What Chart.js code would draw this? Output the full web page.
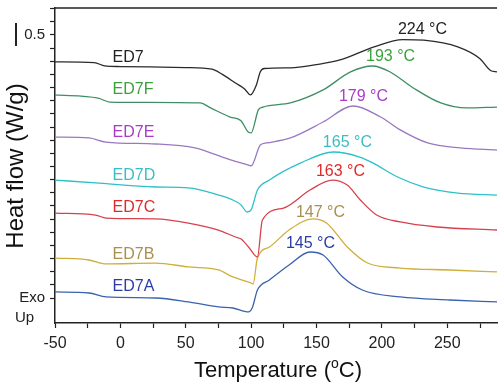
<!DOCTYPE html>
<html>
<head>
<meta charset="utf-8">
<script src="https://cdn.jsdelivr.net/npm/chart.js@4/dist/chart.umd.min.js"></script>
<style>
  html, body { margin: 0; padding: 0; background: #fff; }
  #wrap { width: 498px; height: 389px; }
</style>
</head>
<body>
<div id="wrap"><canvas id="dscChart" width="498" height="389"></canvas></div>
<script>
// --- data (temperature in degC, stacked heat flow in W/g) ---
const seriesNames = ['ED7', 'ED7F', 'ED7E', 'ED7D', 'ED7C', 'ED7B', 'ED7A'];
const lineColors  = ['#2a2a2a', '#3d8f63', '#9a78c0', '#2cc0c8', '#d8404c', '#cfae3a', '#3a62ae'];
const textColors  = ['#222222', '#3aa23a', '#a83cc8', '#3cbcc4', '#e02a2a', '#a89050', '#2c3ca8'];

const ed7  = [[-50,1.795],[-20,1.79],[-12,1.765],[0,1.76],[50,1.752],[70,1.74],[78,1.70],[88,1.635],[95,1.59],[99.5,1.545],[104,1.62],[107,1.72],[110,1.745],[130,1.75],[150,1.775],[168,1.81],[194,1.91],[216,1.965],[232,1.96],[258,1.91],[275,1.82],[283,1.73],[288,1.72]];
const ed7f = [[-50,1.544],[-17,1.52],[-8,1.49],[20,1.487],[61,1.483],[69,1.445],[84,1.376],[92,1.35],[98,1.26],[100,1.255],[105.5,1.43],[109,1.452],[130,1.483],[155,1.582],[176,1.719],[193,1.764],[206,1.72],[224,1.597],[245,1.483],[265,1.445],[288,1.452]];
const ed7e = [[-50,1.224],[-24,1.217],[-11,1.186],[27,1.171],[57,1.141],[78,1.072],[90,1.034],[98,1.011],[100,1.004],[107,1.163],[112,1.179],[130,1.217],[155,1.338],[178,1.46],[199,1.376],[214,1.278],[235,1.179],[260,1.141],[288,1.125]];
const ed7d = [[-50,0.897],[-19,0.875],[27,0.844],[52,0.837],[75,0.783],[86,0.745],[92,0.71],[97,0.654],[100,0.67],[104.8,0.821],[114,0.897],[138,1.027],[163,1.11],[183,1.072],[193,1.027],[212,0.92],[232,0.844],[258,0.798],[288,0.783]];
const ed7c = [[-50,0.646],[-19,0.631],[-11,0.608],[27,0.601],[52,0.57],[75,0.517],[88,0.464],[92,0.45],[98,0.388],[104.8,0.312],[108.6,0.593],[124.7,0.684],[145,0.821],[162,0.897],[173.5,0.859],[183.5,0.745],[196,0.631],[214,0.578],[242,0.54],[288,0.517]];
const ed7b = [[-50,0.304],[-24,0.289],[-11,0.259],[27,0.266],[52,0.236],[75,0.213],[86,0.16],[100,0.114],[101.5,0.106],[104.8,0.304],[114,0.388],[129,0.517],[147,0.601],[157.6,0.57],[173.5,0.388],[189,0.266],[214,0.228],[252,0.213],[288,0.198]];
const ed7a = [[-50,0.046],[-24,0.038],[-11,0.008],[27,0],[52,-0.03],[75,-0.068],[86,-0.076],[98,-0.106],[101,-0.07],[104.8,0.061],[114,0.137],[129,0.251],[145,0.35],[155,0.327],[170,0.16],[185,0.061],[214,0.008],[252,-0.015],[288,-0.03]];
const curves = [ed7, ed7f, ed7e, ed7d, ed7c, ed7b, ed7a];

// name labels on the left, peak labels near each exotherm
const nameLabelX = [-6, -6, -6, -6, -6, -6, -6];
const nameLabelY = [1.825, 1.582, 1.255, 0.928, 0.684, 0.327, 0.084];
const peakTexts  = ['224 °C', '193 °C', '179 °C', '165 °C', '163 °C', '147 °C', '145 °C'];
const peakLabelX = [231, 206.6, 185.9, 173.6, 168.3, 153, 145.4];
const peakLabelY = [2.038, 1.833, 1.529, 1.179, 0.958, 0.646, 0.411];

// axis ticks
const xTickValues = [-50, -25, 0, 25, 50, 75, 100, 125, 150, 175, 200, 225, 250, 275];
const xTickLabels = { '-50': '-50', '0': '0', '50': '50', '100': '100', '150': '150', '200': '200', '250': '250' };
const yTickValues = [0, 0.1, 0.2, 0.3, 0.4, 0.5, 0.6, 0.7, 0.8, 0.9, 1.0, 1.1, 1.2, 1.3, 1.4, 1.5, 1.6, 1.7, 1.8, 1.9, 2.0, 2.1, 2.2];
const yTickLabels = { '2.0': '0.5', '0.0': 'Exo' };

const FONT = '"Liberation Sans", Arial, sans-serif';

const extras = {
    id: 'extras',
    afterDraw(chart) {
        const ctx = chart.ctx;
        const area = chart.chartArea;
        const xs = chart.scales.x, ys = chart.scales.y;
        ctx.save();

        // top frame line
        ctx.strokeStyle = '#222';
        ctx.lineWidth = 1.5;
        ctx.beginPath();
        ctx.moveTo(area.left, area.top);
        ctx.lineTo(area.right, area.top);
        ctx.stroke();

        // scale bar next to 0.5
        ctx.lineWidth = 2;
        ctx.beginPath();
        ctx.moveTo(16, 23);
        ctx.lineTo(16, 46);
        ctx.stroke();

        ctx.fillStyle = '#222';
        ctx.font = '15px ' + FONT;
        ctx.textAlign = 'left';
        ctx.textBaseline = 'middle';
        ctx.fillText('Up', 15, 318);

        // curve names and peak temperatures
        ctx.font = '16px ' + FONT;
        seriesNames.forEach((name, i) => {
            ctx.fillStyle = textColors[i];
            ctx.textAlign = 'left';
            ctx.fillText(name, xs.getPixelForValue(nameLabelX[i]), ys.getPixelForValue(nameLabelY[i]));
            ctx.textAlign = 'center';
            ctx.fillText(peakTexts[i], xs.getPixelForValue(peakLabelX[i]), ys.getPixelForValue(peakLabelY[i]));
        });

        // y title
        ctx.fillStyle = '#111';
        ctx.font = '24px ' + FONT;
        ctx.textAlign = 'center';
        ctx.translate(16, 166);
        ctx.rotate(-Math.PI / 2);
        ctx.fillText('Heat flow (W/g)', 0, 0);
        ctx.setTransform(1, 0, 0, 1, 0, 0);

        // x title with superscript o
        const big = '22px ' + FONT, small = '14px ' + FONT;
        const parts = [['Temperature (', big, 0], ['o', small, -7], ['C)', big, 0]];
        let total = 0;
        parts.forEach(p => { ctx.font = p[1]; total += ctx.measureText(p[0]).width; });
        let cx = 278 - total / 2;
        ctx.textAlign = 'left';
        parts.forEach(p => {
            ctx.font = p[1];
            ctx.fillText(p[0], cx, 371 + p[2]);
            cx += ctx.measureText(p[0]).width;
        });
        ctx.restore();
    }
};

const ctx = document.getElementById('dscChart');
new Chart(ctx, {
    type: 'line',
    data: {
        datasets: curves.map((c, i) => ({
            label: seriesNames[i],
            data: c.map(p => ({ x: p[0], y: p[1] })),
            borderColor: lineColors[i],
            borderWidth: 1.3,
            pointRadius: 0,
            fill: false,
            cubicInterpolationMode: 'monotone'
        }))
    },
    options: {
        responsive: false,
        animation: false,
        layout: { padding: { top: 8, right: 1, left: 0, bottom: 0 } },
        plugins: {
            legend: { display: false },
            tooltip: { enabled: false }
        },
        scales: {
            x: {
                type: 'linear',
                min: -50,
                max: 288,
                afterBuildTicks: scale => { scale.ticks = xTickValues.map(v => ({ value: v })); },
                afterFit: scale => { scale.height = 66; scale.paddingLeft = 0; scale.paddingRight = 0; },
                border: { color: '#222', width: 1.5 },
                grid: { drawOnChartArea: false, tickLength: 5, color: '#222', tickWidth: 1.2 },
                ticks: {
                    autoSkip: false,
                    maxRotation: 0,
                    padding: 6,
                    color: '#222',
                    font: { family: FONT, size: 16 },
                    callback: v => xTickLabels[String(v)] || ''
                }
            },
            y: {
                type: 'linear',
                min: -0.19,
                max: 2.205,
                afterBuildTicks: scale => { scale.ticks = yTickValues.map(v => ({ value: v })); },
                afterFit: scale => { scale.width = 55; scale.paddingTop = 0; scale.paddingBottom = 0; },
                border: { color: '#222', width: 1.5 },
                grid: { drawOnChartArea: false, tickLength: 5, color: '#222', tickWidth: 1.2 },
                ticks: {
                    autoSkip: false,
                    padding: 5,
                    color: '#222',
                    font: { family: FONT, size: 15 },
                    callback: v => yTickLabels[Number(v).toFixed(1)] || ''
                }
            }
        }
    },
    plugins: [extras]
});
</script>
</body>
</html>
